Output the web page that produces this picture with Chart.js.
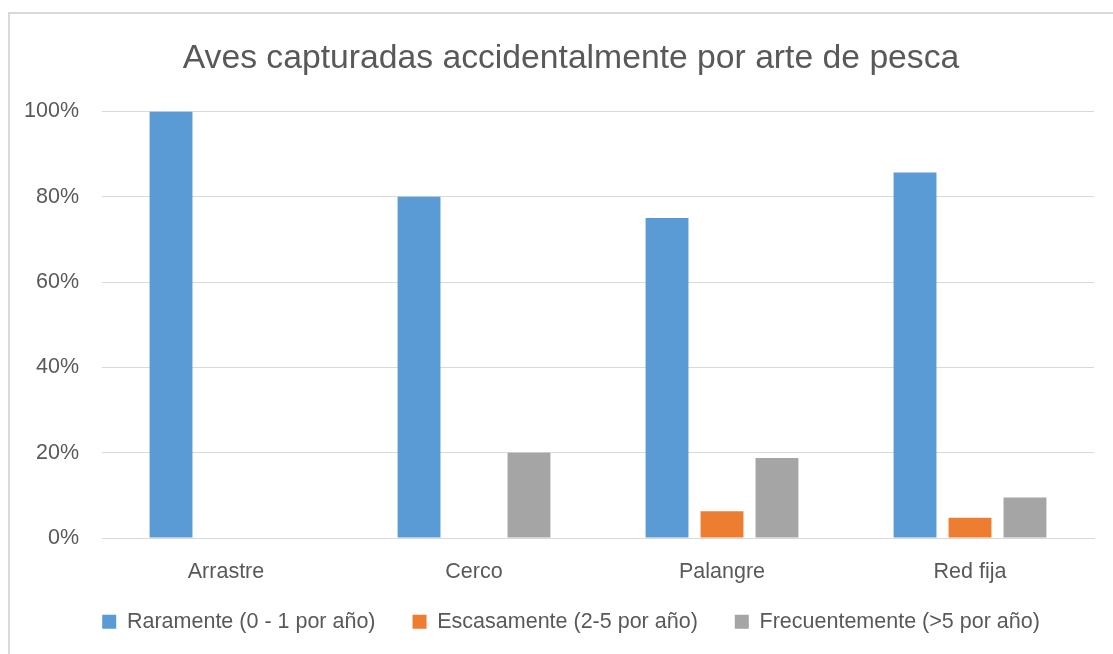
<!DOCTYPE html>
<html>
<head>
<meta charset="utf-8">
<script src="https://cdn.jsdelivr.net/npm/chart.js@4"></script>
<style>
html,body{margin:0;padding:0;background:#fff;}
#wrap{position:relative;width:1113px;height:654px;}
</style>
</head>
<body>
<div id="wrap"><canvas id="c" width="1113" height="654"></canvas></div>
<script>
const categories = ["Arrastre", "Cerco", "Palangre", "Red fija"];
const seriesNames = ["Raramente (0 - 1 por año)", "Escasamente (2-5 por año)", "Frecuentemente (>5 por año)"];
const raramente = [100, 80, 75, 85.7];
const escasamente = [0, 0, 6.25, 4.76];
const frecuentemente = [0, 20, 18.75, 9.52];
const yTicks = [0, 20, 40, 60, 80, 100];
const titleText = "Aves capturadas accidentalmente por arte de pesca";

const FONT = "'Liberation Sans', Arial, sans-serif";
const TEXT = "#595959";
const FS = 21.5;

const frame = {
  id: 'frame',
  beforeDraw(chart) {
    const ctx = chart.ctx;
    ctx.save();
    ctx.fillStyle = '#fff';
    ctx.fillRect(0, 0, chart.width, chart.height);
    ctx.strokeStyle = '#d9d9d9';
    ctx.lineWidth = 2;
    ctx.beginPath();
    ctx.moveTo(9, chart.height);
    ctx.lineTo(9, 13);
    ctx.lineTo(chart.width, 13);
    ctx.stroke();
    ctx.restore();
  }
};

new Chart(document.getElementById('c'), {
  type: 'bar',
  data: {
    labels: categories,
    datasets: [
      {label: seriesNames[0], data: raramente, backgroundColor: '#5B9BD5'},
      {label: seriesNames[1], data: escasamente, backgroundColor: '#ED7D31'},
      {label: seriesNames[2], data: frecuentemente, backgroundColor: '#A5A5A5'}
    ]
  },
  options: {
    responsive: false,
    animation: false,
    devicePixelRatio: 1,
    categoryPercentage: 0.665,
    barPercentage: 0.78,
    layout: {padding: {left: 48, right: 19, top: 0, bottom: 20}},
    plugins: {
      tooltip: {enabled: false},
      title: {
        display: true,
        text: titleText,
        color: TEXT,
        font: {family: FONT, size: 33.7, weight: 'normal', lineHeight: 1.2},
        padding: {top: 38, bottom: 33}
      },
      legend: {
        position: 'bottom',
        maxHeight: 60,
        labels: {
          color: TEXT,
          font: {family: FONT, size: FS},
          boxWidth: 14,
          boxHeight: 14,
          padding: 37
        }
      }
    },
    scales: {
      x: {
        afterFit(s) { s.height = 36; s._computeLabelArea = () => undefined; },
        grid: {display: false, drawTicks: false},
        border: {display: true, color: '#d9d9d9', width: 1},
        ticks: {color: TEXT, font: {family: FONT, size: FS}, padding: 21}
      },
      y: {
        min: 0, max: 100,
        afterFit(s) { s.width = 54; s._computeLabelArea = () => undefined; },
        afterBuildTicks(s) { s.ticks = yTicks.map(v => ({value: v})); },
        grid: {color: '#d9d9d9', drawTicks: false, lineWidth: 1},
        border: {display: false},
        ticks: {
          color: TEXT, font: {family: FONT, size: FS}, padding: 23,
          callback: v => v + '%'
        }
      }
    }
  },
  plugins: [frame]
});
</script>
</body>
</html>
